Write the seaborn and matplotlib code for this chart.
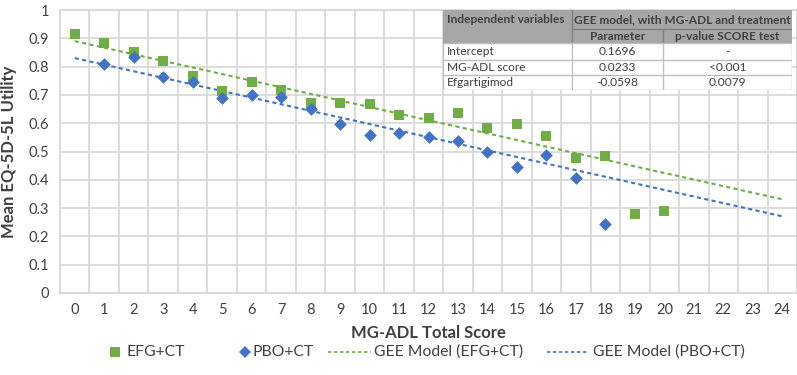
import numpy as np
import pandas as pd
import matplotlib
matplotlib.use("Agg")
import matplotlib.pyplot as plt
from matplotlib.lines import Line2D
from matplotlib.patches import Rectangle
import seaborn as sns

# ---- data ----
efg_x = list(range(0, 21))
efg_y = [0.915, 0.885, 0.852, 0.820, 0.768, 0.715, 0.745, 0.717, 0.673, 0.673,
         0.667, 0.628, 0.620, 0.637, 0.583, 0.598, 0.556, 0.478, 0.484, 0.278, 0.290]
pbo_x = list(range(1, 19))
pbo_y = [0.808, 0.835, 0.765, 0.745, 0.690, 0.700, 0.693, 0.650, 0.597, 0.560,
         0.565, 0.550, 0.537, 0.497, 0.445, 0.487, 0.405, 0.245]
gee_x = [0, 24]
gee_efg = [0.890, 0.331]
gee_pbo = [0.830, 0.271]
x_ticks = list(range(0, 25))
y_ticks = [0, 0.1, 0.2, 0.3, 0.4, 0.5, 0.6, 0.7, 0.8, 0.9, 1]
y_tick_labels = ["0", "0.1", "0.2", "0.3", "0.4", "0.5", "0.6", "0.7", "0.8", "0.9", "1"]
legend_labels = ["EFG+CT", "PBO+CT", "GEE Model (EFG+CT)", "GEE Model (PBO+CT)"]
table_header1 = ["Independent variables", "GEE model, with MG-ADL and treatment"]
table_header2 = ["Parameter", "p-value SCORE test"]
table_rows = [["Intercept", "0.1696", "-"],
              ["MG-ADL score", "0.0233", "<0.001"],
              ["Efgartigimod", "-0.0598", "0.0079"]]

GREEN = "#70ad47"
BLUE = "#4472c4"
GRID = "#d9d9d9"
TXT = "#404040"

sns.set_theme(style="white")
plt.rcParams["font.family"] = ["Lato", "DejaVu Sans"]

W, H = 797, 375
fig = plt.figure(figsize=(W / 100, H / 100), dpi=100)
ax = fig.add_axes([60 / W, 1 - 293 / H, (797 - 60) / W, (293 - 10) / H])

df_efg = pd.DataFrame({"x": efg_x, "y": efg_y})
df_pbo = pd.DataFrame({"x": pbo_x, "y": pbo_y})
df_ge = pd.DataFrame({"x": gee_x, "y": gee_efg})
df_gp = pd.DataFrame({"x": gee_x, "y": gee_pbo})

DASH = (0, (2, 1.6))
sns.lineplot(data=df_ge, x="x", y="y", ax=ax, color=GREEN, lw=1.5, linestyle=DASH, zorder=3)
sns.lineplot(data=df_gp, x="x", y="y", ax=ax, color=BLUE, lw=1.5, linestyle=DASH, zorder=3)
sns.scatterplot(data=df_efg, x="x", y="y", ax=ax, marker="s", s=60,
                color=GREEN, edgecolor=GREEN, linewidth=0, zorder=4)
sns.scatterplot(data=df_pbo, x="x", y="y", ax=ax, marker="D", s=42,
                color=BLUE, edgecolor=BLUE, linewidth=0, zorder=4)

ax.set_xlim(-0.5, 24.5)
ax.set_ylim(0, 1)
ax.set_xticks(x_ticks)
ax.set_xticklabels([str(t) for t in x_ticks])
ax.set_xticks(np.arange(-0.5, 24.6, 1), minor=True)
ax.set_yticks(y_ticks)
ax.set_yticklabels(y_tick_labels)
ax.grid(False)
ax.grid(True, which="minor", axis="x", color=GRID, lw=1.3)
ax.grid(True, which="major", axis="y", color=GRID, lw=1.3)
ax.set_axisbelow(True)
ax.tick_params(which="both", length=0)
ax.tick_params(axis="x", labelsize=10.5, colors=TXT, pad=7)
ax.tick_params(axis="y", labelsize=10.5, colors=TXT, pad=8)
for sp in ax.spines.values():
    sp.set_color(GRID)
    sp.set_linewidth(1.3)
ax.set_xlabel("MG-ADL Total Score", fontsize=12, fontweight="bold", color=TXT, labelpad=6)
ax.set_ylabel("Mean EQ-5D-5L Utility", fontsize=12, fontweight="bold", color=TXT, labelpad=8)

# ---- table (inset in pixel coordinates) ----
tx0, tx1, ty0, ty1 = 443, 792, 10, 90
tax = fig.add_axes([tx0 / W, 1 - ty1 / H, (tx1 - tx0) / W, (ty1 - ty0) / H])
tax.set_xlim(tx0, tx1)
tax.set_ylim(ty1, ty0)
tax.axis("off")
c1, c2 = 572, 663
rows_y = [43, 60, 75, 90]
HDR = "#a6a6a6"
tax.add_patch(Rectangle((tx0, ty0), tx1 - tx0, 43 - ty0, fc=HDR, ec="none"))
tax.add_patch(Rectangle((tx0, 43), tx1 - tx0, ty1 - 43, fc="white", ec="none"))
dark = "#7f7f7f"
tax.plot([c1, c1], [ty0, 43], color=dark, lw=1)
tax.plot([c2, c2], [29, 43], color=dark, lw=1)
tax.plot([c1, tx1], [29, 29], color=dark, lw=1)
for yb in rows_y:
    tax.plot([tx0, tx1], [yb, yb], color="#bfbfbf", lw=1)
for xv in (tx0, c1, c2, tx1):
    tax.plot([xv, xv], [43, ty1], color="#bfbfbf", lw=1)
fs = 8.6
tax.text(tx0 + 4, 19.5, table_header1[0], fontsize=fs, fontweight="bold", color=TXT, va="center", ha="left")
tax.text((c1 + tx1) / 2, 19.5, table_header1[1], fontsize=fs, fontweight="bold", color=TXT, va="center", ha="center")
tax.text((c1 + c2) / 2, 36, table_header2[0], fontsize=fs, fontweight="bold", color=TXT, va="center", ha="center")
tax.text((c2 + tx1) / 2, 36, table_header2[1], fontsize=fs, fontweight="bold", color=TXT, va="center", ha="center")
prev = 43
for row, yb in zip(table_rows, rows_y[1:]):
    yc = (prev + yb) / 2
    tax.text(tx0 + 4, yc, row[0], fontsize=fs, color=TXT, va="center", ha="left")
    tax.text((c1 + c2) / 2, yc, row[1], fontsize=fs, color=TXT, va="center", ha="center")
    tax.text((c2 + tx1) / 2, yc, row[2], fontsize=fs, color=TXT, va="center", ha="center")
    prev = yb

# ---- legend (placed in pixel positions) ----
def fx(px):
    return px / W

def fy(py):
    return 1 - py / H

LY = 352
fig.add_artist(Line2D([fx(115)], [fy(LY)], marker="s", ls="none", color=GREEN,
                      markersize=7.5, markeredgewidth=0, transform=fig.transFigure))
fig.add_artist(Line2D([fx(245)], [fy(LY)], marker="D", ls="none", color=BLUE,
                      markersize=6.5, markeredgewidth=0, transform=fig.transFigure))
fig.add_artist(Line2D([fx(328), fx(371)], [fy(LY), fy(LY)], color=GREEN, lw=1.2, ls=DASH,
                      transform=fig.transFigure))
fig.add_artist(Line2D([fx(547), fx(589)], [fy(LY), fy(LY)], color=BLUE, lw=1.2, ls=DASH,
                      transform=fig.transFigure))
for px, lab in zip([127, 253, 374, 593], legend_labels):
    fig.text(fx(px), fy(LY), lab, fontsize=11.3, color=TXT, ha="left", va="center")

fig.savefig("out.png", dpi=100, facecolor="white")
